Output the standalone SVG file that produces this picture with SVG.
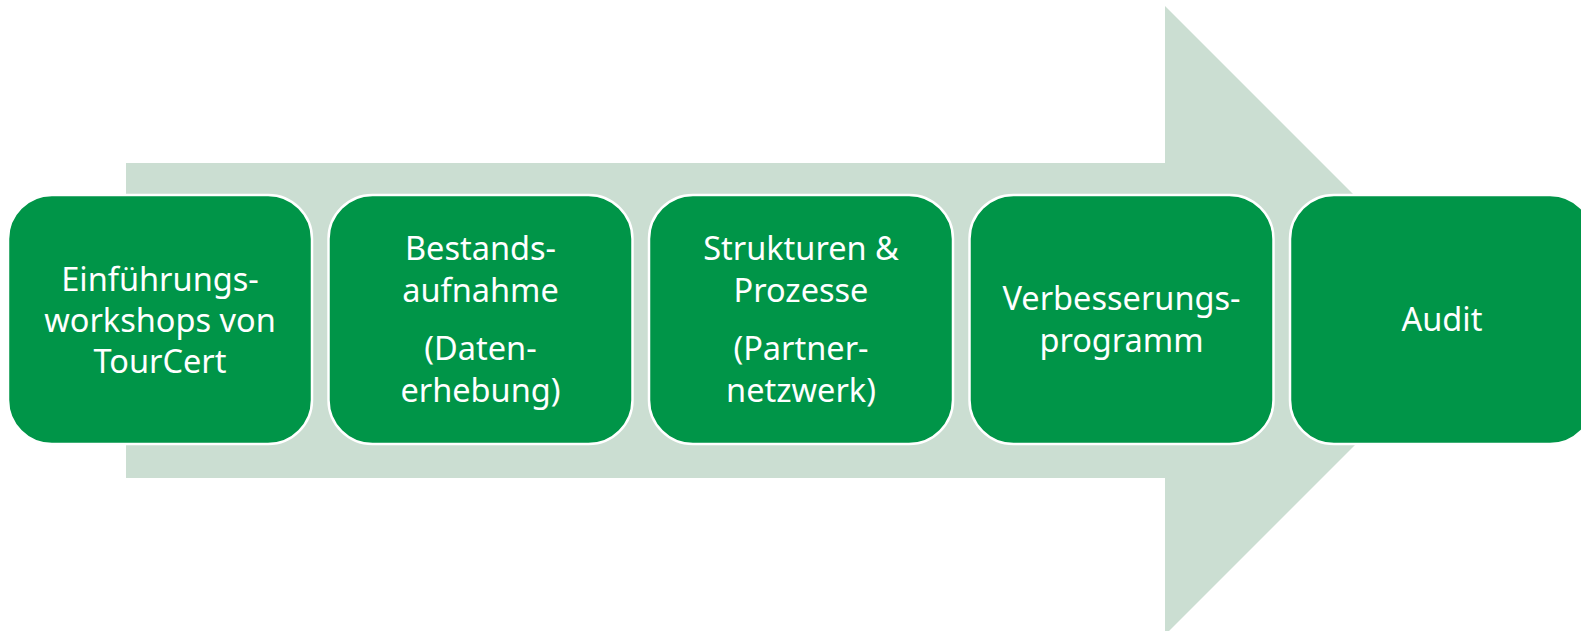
<svg xmlns="http://www.w3.org/2000/svg" width="1581" height="631" viewBox="0 0 1581 631">
<style>
.box{fill:#009548;stroke:#ffffff;stroke-width:2.5}
.t{font-family:"Noto Sans","Open Sans","Liberation Sans",sans-serif;font-size:32.5px;fill:#ffffff;text-anchor:middle}
</style>
<rect width="1581" height="631" fill="#ffffff"/>
<g id="arrow">
<path d="M126 163 H1165 V6 L1479.5 320.5 L1165 635 V478 H126 Z" fill="#cbded2"/>
</g>
<g id="connectors"></g>
<g id="n1">
<rect class="box" x="8" y="195" width="304" height="249" rx="44"/>
<text class="t" x="160" y="291">Einführungs-</text>
<text class="t" x="160" y="332">workshops von</text>
<text class="t" x="160" y="373">TourCert</text>
</g>
<g id="n2">
<rect class="box" x="328.5" y="195" width="304" height="249" rx="44"/>
<text class="t" x="480.5" y="260">Bestands-</text>
<text class="t" x="480.5" y="302">aufnahme</text>
<text class="t" x="480.5" y="360">(Daten-</text>
<text class="t" x="480.5" y="402">erhebung)</text>
</g>
<g id="n3">
<rect class="box" x="649" y="195" width="304" height="249" rx="44"/>
<text class="t" x="801" y="260">Strukturen &amp;</text>
<text class="t" x="801" y="302">Prozesse</text>
<text class="t" x="801" y="360">(Partner-</text>
<text class="t" x="801" y="402">netzwerk)</text>
</g>
<g id="n4">
<rect class="box" x="969.5" y="195" width="304" height="249" rx="44"/>
<text class="t" x="1121.5" y="310">Verbesserungs-</text>
<text class="t" x="1121.5" y="352">programm</text>
</g>
<g id="n5">
<rect class="box" x="1290" y="195" width="304" height="249" rx="44"/>
<text class="t" x="1442" y="331">Audit</text>
</g>
</svg>
